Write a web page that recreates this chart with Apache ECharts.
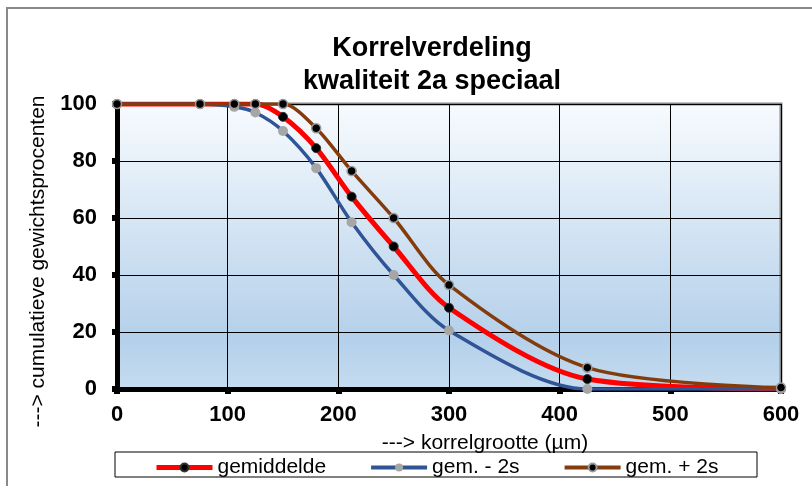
<!DOCTYPE html>
<html>
<head>
<meta charset="utf-8">
<script src="https://cdn.jsdelivr.net/npm/echarts@6/dist/echarts.min.js"></script>
<style>
  html, body { margin: 0; padding: 0; background: #fff; }
  #chart { width: 812px; height: 486px; }
</style>
</head>
<body>
<div id="chart"></div>
<script>
// zeefmaten (µm)
const sieves = [0, 75, 106, 125, 150, 180, 212, 250, 300, 425, 600];
const gemiddelde = [100, 100, 100, 100, 95.5, 84.5, 67.5, 50, 28.5, 3.5, 0];
const gemMin2s = [100, 100, 99, 97, 90.5, 77.5, 58.5, 40, 20.5, 0, 0];
const gemPlus2s = [100, 100, 100, 100, 100, 91.5, 76.5, 60, 36.5, 7.5, 0.5];
const xTicks = [0, 100, 200, 300, 400, 500, 600];
const yTicks = [0, 20, 40, 60, 80, 100];

const font = 'Arial, "Liberation Sans", sans-serif';
const pairs = (ys) => sieves.map((x, i) => [x, ys[i]]);

const chart = echarts.init(document.getElementById("chart"));

chart.setOption({
  animation: false,
  title: {
    text: "Korrelverdeling\nkwaliteit 2a speciaal",
    left: 427,
    top: 27,
    textAlign: "center",
    textStyle: { fontFamily: font, fontSize: 27, fontWeight: "bold", color: "#000", lineHeight: 33 },
  },
  graphic: [
    { type: "rect", shape: { x: 7, y: 8, width: 900, height: 600 }, style: { fill: "none", stroke: "#888", lineWidth: 2 }, silent: true },
    { type: "rect", shape: { x: 115, y: 452, width: 642, height: 25 }, style: { fill: "#fff", stroke: "#000", lineWidth: 1 }, silent: true, z: -1 },
  ],
  legend: {
    left: 149,
    top: 452,
    itemWidth: 56,
    itemHeight: 10,
    itemGap: 43,
    textStyle: { fontFamily: font, fontSize: 21, color: "#000" },
    data: [
      { name: "gemiddelde", lineStyle: { width: 5 } },
      { name: "gem. - 2s", lineStyle: { width: 4 } },
      { name: "gem. + 2s", lineStyle: { width: 4 } },
    ],
  },
  grid: {
    left: 117,
    right: 31,
    top: 104,
    bottom: 97,
    show: true,
    borderColor: "#888",
    borderWidth: 3,
    backgroundColor: {
      type: "linear", x: 0, y: 0, x2: 0, y2: 1,
      colorStops: [
        { offset: 0, color: "#f8fbfe" },
        { offset: 0.82, color: "#b4d0ea" },
        { offset: 1, color: "#c6dcf0" },
      ],
    },
  },
  xAxis: {
    type: "value",
    min: xTicks[0],
    max: xTicks[xTicks.length - 1],
    interval: 100,
    name: "---> korrelgrootte (µm)",
    nameLocation: "middle",
    nameGap: 44,
    nameTextStyle: { fontFamily: font, fontSize: 21, color: "#000", padding: [0, 0, 0, 72] },
    axisLine: { onZero: false, lineStyle: { color: "#000", width: 5 } },
    axisTick: { show: true, length: 5, lineStyle: { color: "#000", width: 6 } },
    axisLabel: { fontFamily: font, fontSize: 22, fontWeight: "bold", color: "#000", margin: 15 },
    splitLine: { show: true, lineStyle: { color: "#000", width: 1 } },
  },
  yAxis: {
    type: "value",
    min: yTicks[0],
    max: yTicks[yTicks.length - 1],
    interval: 20,
    name: "---> cumulatieve gewichtsprocenten",
    nameLocation: "middle",
    nameGap: 68,
    nameTextStyle: { fontFamily: font, fontSize: 21, color: "#000", padding: [0, 30, 0, 0] },
    axisLine: { show: true, lineStyle: { color: "#000", width: 5 } },
    axisTick: { show: true, length: 5, lineStyle: { color: "#000", width: 6 } },
    axisLabel: { fontFamily: font, fontSize: 22, fontWeight: "bold", color: "#000", margin: 20 },
    splitLine: { show: true, lineStyle: { color: "#000", width: 1 } },
  },
  series: [
    {
      name: "gemiddelde",
      type: "line",
      data: pairs(gemiddelde),
      smooth: 0.3,
      symbol: "circle",
      symbolSize: 9,
      lineStyle: { color: "#ff0000", width: 5 },
      itemStyle: { color: "#000", borderColor: "#333", borderWidth: 1 },
      z: 3,
    },
    {
      name: "gem. - 2s",
      type: "line",
      data: pairs(gemMin2s),
      smooth: 0.3,
      symbol: "circle",
      symbolSize: 10,
      lineStyle: { color: "#2f5597", width: 3.5 },
      itemStyle: { color: "#a6a6a6" },
      z: 4,
    },
    {
      name: "gem. + 2s",
      type: "line",
      data: pairs(gemPlus2s),
      smooth: 0.3,
      symbol: "circle",
      symbolSize: 9,
      lineStyle: { color: "#843c0c", width: 3.5 },
      itemStyle: { color: "#000", borderColor: "#999", borderWidth: 1.5 },
      z: 5,
    },
  ],
});
</script>
</body>
</html>
